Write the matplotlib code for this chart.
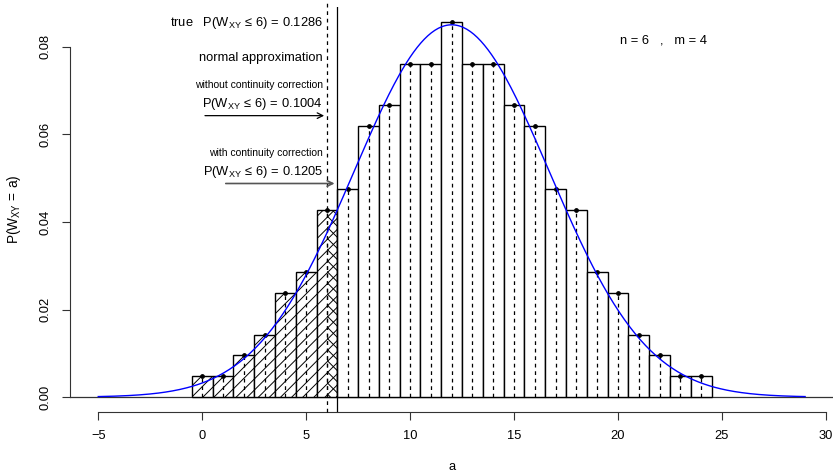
import numpy as np
import matplotlib.pyplot as plt

plt.rcParams['font.family'] = ['Liberation Sans', 'DejaVu Sans']
plt.rcParams['mathtext.fontset'] = 'custom'
plt.rcParams['mathtext.rm'] = 'Liberation Sans'
plt.rcParams['mathtext.it'] = 'Liberation Sans:italic'
plt.rcParams['hatch.linewidth'] = 0.7

# exact distribution of W_XY for n = 6, m = 4 (counts out of 210)
a_vals = list(range(0, 25))
counts = [1, 1, 2, 3, 5, 6, 9, 10, 13, 14, 16, 16, 18,
          16, 16, 14, 13, 10, 9, 6, 5, 3, 2, 1, 1]
total = 210
probs = [c / total for c in counts]

# normal approximation parameters
mu = 12.0
sigma = np.sqrt(22.0)
curve_from, curve_to = -5, 29

x_ticks = [-5, 0, 5, 10, 15, 20, 25, 30]
y_ticks = [0.00, 0.02, 0.04, 0.06, 0.08]

fig = plt.figure(figsize=(8.38, 4.73), dpi=100)
ax = fig.add_axes([0.0835, 0.129, 0.911, 0.856])

for a, p in zip(a_vals, probs):
    hatch = '///' if a <= 6 else None
    ax.add_patch(plt.Rectangle((a - 0.5, 0), 1, p, facecolor='white',
                               edgecolor='black', lw=1.0, hatch=hatch, zorder=2))
# cross hatched continuity-correction part
ax.add_patch(plt.Rectangle((6, 0), 0.5, probs[6], facecolor='none',
                           edgecolor='black', lw=0, hatch='\\\\\\', zorder=2))

ax.vlines(a_vals, 0, probs, colors='black', linestyles=(0, (3, 3)), lw=0.9, zorder=3)
ax.scatter(a_vals, probs, s=6, color='black', zorder=4)

xs = np.linspace(curve_from, curve_to, 400)
ax.plot(xs, np.exp(-0.5 * ((xs - mu) / sigma) ** 2) / (sigma * np.sqrt(2 * np.pi)),
        color='blue', lw=1.0, zorder=5)

ax.axhline(0, color='#333333', lw=0.9, zorder=1)
ax.axvline(6, ymax=1.02, color='black', lw=0.9, linestyle=(0, (3, 3)), zorder=3, clip_on=False)
ax.axvline(6.5, color='black', lw=0.9, zorder=3)

fs = 9.3
form = r'$\mathrm{P(W_{XY}\,\leq\,6)\,=\,%s}$'
ax.text(5.8, 0.0855, 'true   ' + form % '0.1286', ha='right', va='center', fontsize=fs)
ax.text(5.8, 0.0775, 'normal approximation', ha='right', va='center', fontsize=fs)
ax.text(5.8, 0.0713, 'without continuity correction', ha='right', va='center', fontsize=7.5)
ax.text(5.8, 0.0670, form % '0.1004', ha='right', va='center', fontsize=fs)
ax.annotate('', xy=(6, 0.0643), xytext=(0, 0.0643),
            arrowprops=dict(arrowstyle='->', color='black', lw=0.9))
ax.text(5.8, 0.0558, 'with continuity correction', ha='right', va='center', fontsize=7.5)
ax.text(5.8, 0.0515, form % '0.1205', ha='right', va='center', fontsize=fs)
ax.annotate('', xy=(6.5, 0.0488), xytext=(1, 0.0488),
            arrowprops=dict(arrowstyle='->', color='#555555', lw=1.2))
ax.text(22.2, 0.0814, 'n = 6   ,   m = 4', ha='center', va='center', fontsize=fs)

ax.set_xlim(-6.36, 30.36)
ax.set_ylim(-0.0034, 0.0891)
for s in ['top', 'right']:
    ax.spines[s].set_visible(False)
ax.spines['left'].set_bounds(0, 0.08)
ax.spines['bottom'].set_bounds(-5, 30)
ax.spines['left'].set_color('#333333')
ax.spines['bottom'].set_color('#333333')
ax.set_xticks(x_ticks)
ax.set_yticks(y_ticks)
ax.set_yticklabels(['%.2f' % v for v in y_ticks], rotation=90, va='center')
ax.tick_params(axis='both', labelsize=fs, length=6, pad=7, color='#333333')
ax.set_xlabel('a', fontsize=fs, labelpad=14)
ax.set_ylabel(r'$\mathrm{P(W_{XY}\,=\,a)}$', fontsize=fs + 0.5, labelpad=12)

fig.savefig('out.png', dpi=100)
